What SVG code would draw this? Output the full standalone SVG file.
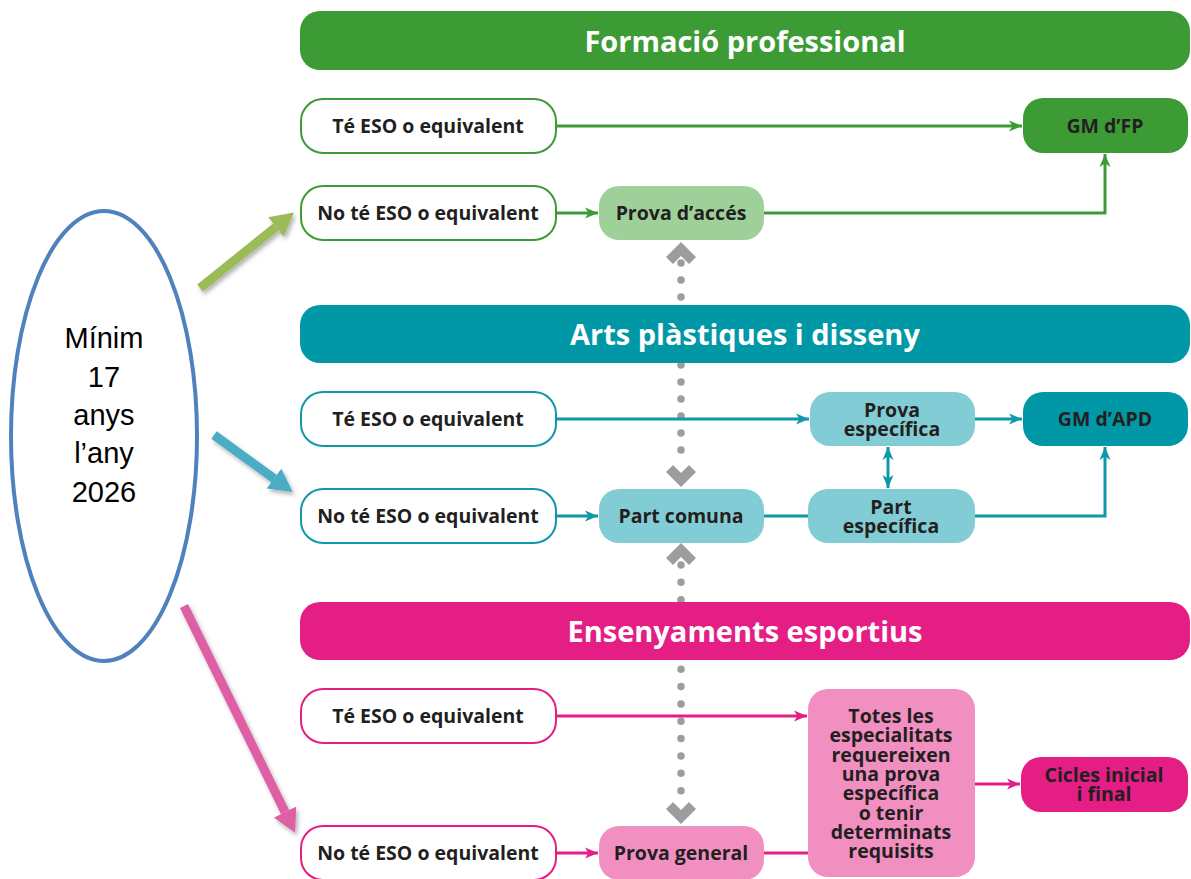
<svg xmlns="http://www.w3.org/2000/svg" width="1191" height="879" viewBox="0 0 1191 879">
  <defs>
    <style>
      .hdr { font-family: "Open Sans", "Noto Sans", "Liberation Sans", sans-serif; font-weight: 700; font-size: 29px; fill: #ffffff; text-anchor: middle; }
      .lbl { font-family: "Open Sans", "Noto Sans", "Liberation Sans", sans-serif; font-weight: 700; font-size: 19.5px; fill: #231f20; text-anchor: middle; }
      .age { font-family: "Liberation Sans", Arial, sans-serif; font-size: 29px; fill: #000000; text-anchor: middle; }
      .fpBox { fill: #ffffff; stroke: #3d9b35; stroke-width: 2; }
      .apBox { fill: #ffffff; stroke: #0e98a8; stroke-width: 2; }
      .esBox { fill: #ffffff; stroke: #e41e85; stroke-width: 2; }
      .fpLn { fill: none; stroke: #3d9b35; stroke-width: 3; }
      .apLn { fill: none; stroke: #0e98a8; stroke-width: 3; }
      .esLn { fill: none; stroke: #e41e85; stroke-width: 3; }
      .dots { fill: none; stroke: #9d9d9f; stroke-width: 7.5; stroke-linecap: round; }
      .chev { fill: #9d9d9f; }
    </style>
    <marker id="mFP" markerUnits="userSpaceOnUse" markerWidth="14" markerHeight="12" refX="13" refY="6" orient="auto-start-reverse">
      <path d="M0,0.5 L13,6 L0,11.5 L3.5,6 z" fill="#3d9b35"/>
    </marker>
    <marker id="mAP" markerUnits="userSpaceOnUse" markerWidth="14" markerHeight="12" refX="13" refY="6" orient="auto-start-reverse">
      <path d="M0,0.5 L13,6 L0,11.5 L3.5,6 z" fill="#0e98a8"/>
    </marker>
    <marker id="mES" markerUnits="userSpaceOnUse" markerWidth="14" markerHeight="12" refX="13" refY="6" orient="auto-start-reverse">
      <path d="M0,0.5 L13,6 L0,11.5 L3.5,6 z" fill="#e41e85"/>
    </marker>
    <marker id="bigG" markerUnits="userSpaceOnUse" markerWidth="26" markerHeight="26" refX="0" refY="12.5" orient="auto">
      <path d="M0,0 L23,12.5 L0,25 z" fill="#9bbb59"/>
    </marker>
    <marker id="bigB" markerUnits="userSpaceOnUse" markerWidth="26" markerHeight="26" refX="0" refY="12.5" orient="auto">
      <path d="M0,0 L23,12.5 L0,25 z" fill="#4bacc6"/>
    </marker>
    <marker id="bigP" markerUnits="userSpaceOnUse" markerWidth="26" markerHeight="26" refX="0" refY="12.5" orient="auto">
      <path d="M0,0 L23,12.5 L0,25 z" fill="#df5fa5"/>
    </marker>
    <filter id="sh" x="-20%" y="-20%" width="140%" height="140%">
      <feDropShadow dx="2" dy="3" stdDeviation="2" flood-color="#000000" flood-opacity="0.3"/>
    </filter>
  </defs>

  <rect width="1191" height="879" fill="#ffffff"/>

  <!-- dotted links (drawn under headers) -->
  <g id="dotted">
    <line class="dots" x1="681" y1="263" x2="681" y2="467" stroke-dasharray="0 17"/>
    <polygon class="chev" points="666,257 673,264 681,256 689,264 696,257 681,242"/>
    <polygon class="chev" points="666,472 673,465 681,473 689,465 696,472 681,487"/>
    <line class="dots" x1="681" y1="565" x2="681" y2="808" stroke-dasharray="0 17.36"/>
    <polygon class="chev" points="666,558 673,565 681,557 689,565 696,558 681,543"/>
    <polygon class="chev" points="666,809 673,802 681,810 689,802 696,809 681,824"/>
  </g>

  <!-- headers -->
  <g id="hdr-fp">
    <rect x="300" y="11" width="890" height="59" rx="20" fill="#3d9b35"/>
    <text class="hdr" x="745" y="52">Formació professional</text>
  </g>
  <g id="hdr-ap">
    <rect x="300" y="305" width="890" height="58" rx="20" fill="#0097a7"/>
    <text class="hdr" x="745" y="345">Arts plàstiques i disseny</text>
  </g>
  <g id="hdr-es">
    <rect x="300" y="602" width="890" height="58" rx="20" fill="#e41e85"/>
    <text class="hdr" x="745" y="642">Ensenyaments esportius</text>
  </g>

  <!-- connectors -->
  <g id="connectors">
    <line class="fpLn" x1="556" y1="126" x2="1022" y2="126" marker-end="url(#mFP)"/>
    <line class="fpLn" x1="556" y1="213" x2="598" y2="213" marker-end="url(#mFP)"/>
    <polyline class="fpLn" points="764,213 1105,213 1105,154" marker-end="url(#mFP)"/>

    <line class="apLn" x1="556" y1="419" x2="809" y2="419" marker-end="url(#mAP)"/>
    <line class="apLn" x1="975" y1="419" x2="1022" y2="419" marker-end="url(#mAP)"/>
    <line class="apLn" x1="888" y1="447" x2="888" y2="488" marker-start="url(#mAP)" marker-end="url(#mAP)"/>
    <line class="apLn" x1="556" y1="516" x2="598" y2="516" marker-end="url(#mAP)"/>
    <line class="apLn" x1="764" y1="516" x2="808" y2="516"/>
    <polyline class="apLn" points="975,516 1105,516 1105,447" marker-end="url(#mAP)"/>

    <line class="esLn" x1="556" y1="716" x2="807" y2="716" marker-end="url(#mES)"/>
    <line class="esLn" x1="975" y1="784" x2="1020" y2="784" marker-end="url(#mES)"/>
    <line class="esLn" x1="556" y1="853" x2="598" y2="853" marker-end="url(#mES)"/>
    <line class="esLn" x1="764" y1="853" x2="808" y2="853"/>

    <g filter="url(#sh)">
      <line x1="200" y1="288" x2="276" y2="227" stroke="#9bbb59" stroke-width="9" marker-end="url(#bigG)"/>
      <line x1="214" y1="435" x2="274" y2="478.5" stroke="#4bacc6" stroke-width="9" marker-end="url(#bigB)"/>
      <line x1="184" y1="606" x2="285" y2="812" stroke="#df5fa5" stroke-width="9" marker-end="url(#bigP)"/>
    </g>
  </g>

  <!-- age ellipse -->
  <g id="age">
    <ellipse cx="104" cy="436" rx="93" ry="225" fill="#ffffff" stroke="#4f81bd" stroke-width="4"/>
    <text class="age" x="104" y="348">Mínim<tspan x="104" y="387">17</tspan><tspan x="104" y="425">anys</tspan><tspan x="104" y="463">l’any</tspan><tspan x="104" y="502">2026</tspan></text>
  </g>

  <!-- Formació professional -->
  <g id="fp-te">
    <rect class="fpBox" x="301" y="99" width="255" height="54" rx="22"/>
    <text class="lbl" x="428" y="133">Té ESO o equivalent</text>
  </g>
  <g id="fp-note">
    <rect class="fpBox" x="301" y="186" width="255" height="54" rx="22"/>
    <text class="lbl" x="428" y="220">No té ESO o equivalent</text>
  </g>
  <g id="fp-prova">
    <rect x="599" y="186" width="165" height="54" rx="20" fill="#a0d09a"/>
    <text class="lbl" x="681" y="220">Prova d’accés</text>
  </g>
  <g id="fp-gm">
    <rect x="1023" y="98" width="165" height="55" rx="20" fill="#3d9b35"/>
    <text class="lbl" x="1105" y="133">GM d’FP</text>
  </g>

  <!-- Arts plàstiques i disseny -->
  <g id="ap-te">
    <rect class="apBox" x="301" y="392" width="255" height="54" rx="22"/>
    <text class="lbl" x="428" y="426">Té ESO o equivalent</text>
  </g>
  <g id="ap-note">
    <rect class="apBox" x="301" y="489" width="255" height="54" rx="22"/>
    <text class="lbl" x="428" y="523">No té ESO o equivalent</text>
  </g>
  <g id="ap-provaesp">
    <rect x="810" y="392" width="165" height="54" rx="20" fill="#82cdd5"/>
    <text class="lbl" x="892" y="417">Prova<tspan x="892" y="436">específica</tspan></text>
  </g>
  <g id="ap-gm">
    <rect x="1023" y="392" width="165" height="54" rx="20" fill="#0097a7"/>
    <text class="lbl" x="1105" y="426">GM d’APD</text>
  </g>
  <g id="ap-comuna">
    <rect x="599" y="489" width="165" height="54" rx="20" fill="#82cdd5"/>
    <text class="lbl" x="681" y="523">Part comuna</text>
  </g>
  <g id="ap-partesp">
    <rect x="808" y="489" width="167" height="54" rx="20" fill="#82cdd5"/>
    <text class="lbl" x="891" y="514">Part<tspan x="891" y="533">específica</tspan></text>
  </g>

  <!-- Ensenyaments esportius -->
  <g id="es-te">
    <rect class="esBox" x="301" y="689" width="255" height="54" rx="22"/>
    <text class="lbl" x="428" y="723">Té ESO o equivalent</text>
  </g>
  <g id="es-note">
    <rect class="esBox" x="301" y="826" width="255" height="54" rx="22"/>
    <text class="lbl" x="428" y="860">No té ESO o equivalent</text>
  </g>
  <g id="es-general">
    <rect x="599" y="826" width="165" height="54" rx="20" fill="#f18fc1"/>
    <text class="lbl" x="681" y="860">Prova general</text>
  </g>
  <g id="es-totes">
    <rect x="808" y="689" width="167" height="188" rx="20" fill="#f18fc1"/>
    <text class="lbl" x="891" y="723">Totes les<tspan x="891" y="742.3">especialitats</tspan><tspan x="891" y="761.6">requereixen</tspan><tspan x="891" y="780.9">una prova</tspan><tspan x="891" y="800.2">específica</tspan><tspan x="891" y="819.5">o tenir</tspan><tspan x="891" y="838.8">determinats</tspan><tspan x="891" y="858">requisits</tspan></text>
  </g>
  <g id="es-cicles">
    <rect x="1021" y="757" width="167" height="55" rx="20" fill="#e41e85"/>
    <text class="lbl" x="1104" y="782">Cicles inicial<tspan x="1104" y="801">i final</tspan></text>
  </g>
</svg>
